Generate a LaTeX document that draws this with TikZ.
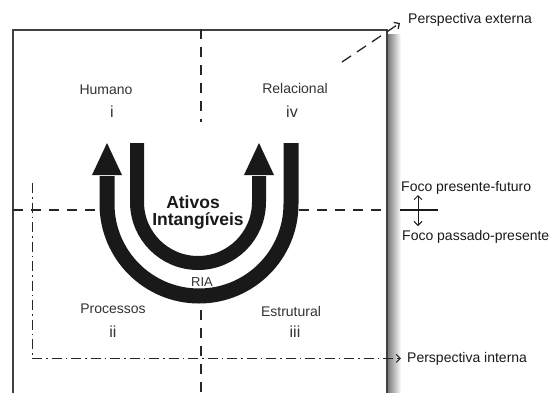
\documentclass[tikz,border=0pt]{standalone}
\usepackage{fontspec}
\setmainfont{Liberation Sans}
\usetikzlibrary{arrows.meta}
\begin{document}
\begin{tikzpicture}[x=1pt,y=-1pt,
  lbl/.style={font=\fontsize{14}{16}\selectfont, text=black!80, anchor=base, inner sep=0pt},
  num/.style={font=\fontsize{16}{18}\selectfont, text=black!80, anchor=base, inner sep=0pt},
  big/.style={font=\bfseries\fontsize{17.5}{18}\selectfont, text=black!90, anchor=base, inner sep=0pt},
  side/.style={font=\fontsize{14}{16}\selectfont, text=black!90, anchor=base west, inner sep=0pt},
  dashln/.style={line width=1.3pt, dash pattern=on 10pt off 8pt, draw=black!85},
  diagln/.style={line width=1.3pt, dash pattern=on 11pt off 7pt, draw=black!85},
  dashdotln/.style={line width=1pt, dash pattern=on 10pt off 4pt on 1.5pt off 4pt, draw=black!85},
  band/.style={draw=black!90},
  head/.style={fill=black!90},
  barb/.style={-{Straight Barb[length=4pt,width=8pt]}},
  dblbarb/.style={{Straight Barb[length=4pt,width=8pt]}-{Straight Barb[length=4pt,width=8pt]}}
]
\useasboundingbox (0,0) rectangle (558,392);

% soft shadow along the right side of the frame
\shade[left color=black!55, right color=white] (387,34) rectangle (401,392);
% frame
\draw[line width=1.3pt, draw=black!75, fill=white] (13,30) rectangle (387,400);

% quadrant axes
\draw[dashln] (201,29) -- (201,122);
\draw[dashln] (201,310) -- (201,392);
\draw[dashln] (13,210) -- (99,210);
\draw[dashln] (299,210) -- (387,210);

% outer U band with arrow on the left arm
\draw[band, line width=15pt] (107,176) -- (107,204) arc[start angle=180, end angle=0, radius=92] -- (291,143);
\fill[head] (92,175) -- (107,143) -- (122,175) -- cycle;
% inner U band with arrow on the right arm
\draw[band, line width=14pt] (137,143) -- (137,202) arc[start angle=180, end angle=0, radius=61] -- (259,176);
\fill[head] (244,175) -- (259,143) -- (274,175) -- cycle;

% centre labels
\node[big] (ativos) at (193,208) {Ativos};
\node[big] (intang) at (198,225) {Intangíveis};
\node[lbl, font=\fontsize{13}{15}\selectfont] (ria) at (202,286) {RIA};

% quadrant labels
\node[lbl] (humano) at (106,94) {Humano};
\node[num] (q1) at (112,117) {i};
\node[lbl] (relac) at (295,93) {Relacional};
\node[num] (q4) at (292,117) {iv};
\node[lbl] (proc) at (113,313) {Processos};
\node[num] (q2) at (113,337) {ii};
\node[lbl] (estr) at (291,316) {Estrutural};
\node[num] (q3) at (295,337) {iii};

% side labels
\node[side] (pext) at (408,23) {Perspectiva externa};
\node[side] (ffut) at (401,191) {Foco presente-futuro};
\node[side] (fpas) at (402,240) {Foco passado-presente};
\node[side] (pint) at (407,362) {Perspectiva interna};

% external perspective pointer
\coordinate (de) at (342,62);
\draw[diagln, barb] (de) -- ([shift={(-8,0)}]pext.base west);

% internal perspective boundary
\coordinate (di) at (32,183);
\draw[dashdotln, barb] (di) |- ([xshift=-6pt]pint.west);

% time focus divider
\coordinate (fl) at (400,210);
\coordinate (fr) at (438,210);
\draw[line width=1.4pt, black!90] (fl) -- (fr);
\coordinate (fa) at (418,195);
\coordinate (fb) at (418,226);
\draw[line width=1pt, black!90, dblbarb] (fa) -- (fb);
\end{tikzpicture}
\end{document}
